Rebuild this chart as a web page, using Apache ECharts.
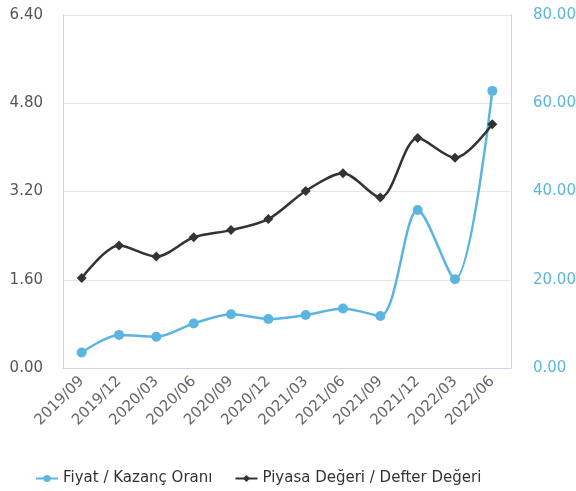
<!DOCTYPE html>
<html>
<head>
<meta charset="utf-8">
<script src="https://cdn.jsdelivr.net/npm/echarts@6/dist/echarts.min.js"></script>
<style>
  html, body { margin: 0; padding: 0; background: #fff; }
  #main { width: 576px; height: 491px; }
</style>
</head>
<body>
<div id="main"></div>
<script>
// dönemler
var donemler = ['2019/09', '2019/12', '2020/03', '2020/06', '2020/09', '2020/12',
                '2021/03', '2021/06', '2021/09', '2021/12', '2022/03', '2022/06'];
// F/K (sağ eksen)
var fiyatKazanc = [3.5, 7.5, 7.1, 10.1, 12.2, 11.1, 12.0, 13.5, 11.8, 35.8, 20.1, 62.8];
// PD/DD (sol eksen)
var piyasaDefter = [1.63, 2.22, 2.02, 2.37, 2.50, 2.70, 3.21, 3.53, 3.09, 4.17, 3.81, 4.42];

var mavi = '#5bb5e0';
var koyu = '#333333';
var eksenRenk = '#ccd6eb';
var yazi = 'DejaVu Sans';

var myChart = echarts.init(document.getElementById('main'));

var option = {
    animation: false,
    grid: { left: 63, right: 65, top: 15, bottom: 123, outerBoundsMode: 'none' },
    legend: {
        top: 466,
        left: 30,
        itemGap: 22,
        itemWidth: 22,
        itemHeight: 9,
        textStyle: { fontFamily: yazi, fontSize: 15, color: '#333' },
        data: ['Fiyat / Kazanç Oranı', 'Piyasa Değeri / Defter Değeri']
    },
    xAxis: {
        type: 'category',
        data: donemler,
        axisLine: { lineStyle: { color: eksenRenk, width: 1 } },
        axisTick: { show: false },
        axisLabel: { rotate: 45, color: '#666', fontFamily: yazi, fontSize: 15, margin: 11, interval: 0 }
    },
    yAxis: [
        {
            type: 'value',
            min: 0, max: 6.4, interval: 1.6,
            axisLine: { show: true, lineStyle: { color: eksenRenk } },
            axisLabel: { color: '#555', fontFamily: yazi, fontSize: 15, margin: 20,
                formatter: function (v) { return v.toFixed(2); } },
            splitLine: { lineStyle: { color: '#e6e6e6' } }
        },
        {
            type: 'value',
            min: 0, max: 80, interval: 20,
            axisLine: { show: true, lineStyle: { color: eksenRenk } },
            axisLabel: { color: mavi, fontFamily: yazi, fontSize: 15, margin: 22,
                formatter: function (v) { return v.toFixed(2); } },
            splitLine: { show: false }
        }
    ],
    series: [
        {
            name: 'Fiyat / Kazanç Oranı',
            type: 'line',
            yAxisIndex: 1,
            smooth: 0.3,
            symbol: 'circle',
            symbolSize: 10,
            color: mavi,
            lineStyle: { width: 2.5 },
            data: fiyatKazanc
        },
        {
            name: 'Piyasa Değeri / Defter Değeri',
            type: 'line',
            yAxisIndex: 0,
            smooth: 0.3,
            symbol: 'diamond',
            symbolSize: 10,
            color: koyu,
            lineStyle: { width: 2.5 },
            data: piyasaDefter
        }
    ]
};

myChart.setOption(option);
</script>
</body>
</html>
